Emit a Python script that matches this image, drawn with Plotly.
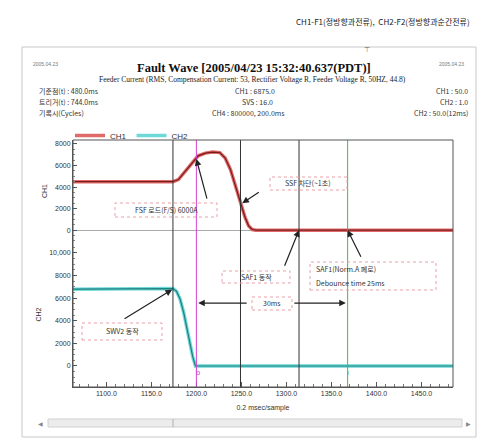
import plotly.graph_objects as go

# ---- recorded waveforms (sample index vs. value) ----
x_ch1 = [1063, 1174, 1180, 1188, 1196, 1202, 1210, 1218, 1226, 1232, 1238, 1244, 1249, 1254, 1258, 1262, 1266, 1485]
ch1 = [4500, 4500, 4700, 5500, 6400, 6900, 7150, 7250, 7200, 6700, 5600, 4000, 2500, 1200, 400, 60, 0, 0]

x_ch2 = [1063, 1170, 1174, 1178, 1182, 1186, 1190, 1193, 1196, 1199, 1485]
ch2 = [6800, 6800, 6850, 6600, 5900, 4700, 3100, 1900, 800, 0, 0]

# cursor positions and their colours
cursor_x = [1174, 1200, 1249, 1314, 1368]
cursor_color = ["#333333", "#d43fd4", "#333333", "#333333", "#3cc03c"]

x_ticks = [1100, 1150, 1200, 1250, 1300, 1350, 1400, 1450]
x_tick_text = ["%.1f" % v for v in x_ticks]
y_tick_step = 2000

W, H = 493, 440
L, R, T, B = 73, 453, 140, 387


def px(x):
    return (x - L) / (R - L)


def py(y):
    return (B - y) / (B - T)


fig = go.Figure()

# CH1: wide light band with a dark core
fig.add_trace(go.Scatter(x=x_ch1, y=ch1, mode="lines", name="CH1", yaxis="y",
                         line=dict(color="#e06a6a", width=3.5), showlegend=True))
fig.add_trace(go.Scatter(x=x_ch1, y=ch1, mode="lines", yaxis="y",
                         line=dict(color="#7a1c1c", width=1.2), showlegend=False, hoverinfo="skip"))
# CH2
fig.add_trace(go.Scatter(x=x_ch2, y=ch2, mode="lines", name="CH2", yaxis="y2",
                         line=dict(color="#6fd8d8", width=3.5), showlegend=True))
fig.add_trace(go.Scatter(x=x_ch2, y=ch2, mode="lines", yaxis="y2",
                         line=dict(color="#1f7f7f", width=1.2), showlegend=False, hoverinfo="skip"))

shapes = []
for cx, cc in zip(cursor_x, cursor_color):
    shapes.append(dict(type="line", xref="x", yref="paper", x0=cx, x1=cx, y0=0, y1=1,
                       line=dict(color=cc, width=1)))
# plot frame
shapes.append(dict(type="rect", xref="paper", yref="paper", x0=0, x1=1, y0=0, y1=1,
                   line=dict(color="#555555", width=1)))
# window frame and scroll bar
shapes.append(dict(type="rect", xref="paper", yref="paper", x0=px(22), x1=px(476), y0=py(437), y1=py(47),
                   line=dict(color="#c8c8c8", width=1)))
shapes.append(dict(type="rect", xref="paper", yref="paper", x0=px(48), x1=px(462), y0=py(427), y1=py(419),
                   line=dict(color="#d0d0d0", width=1), fillcolor="#ececec"))
shapes.append(dict(type="line", xref="paper", yref="paper", x0=px(173), x1=px(173), y0=py(427), y1=py(419),
                   line=dict(color="#b0b0b0", width=1)))

# annotation boxes (dotted pink outlines)
boxes = [
    (115, 217, 203, 217),
    (270, 347, 177, 190),
    (222, 290, 271, 283),
    (310, 436, 262, 290),
    (252, 292, 297, 310),
    (82, 162, 323, 340),
]
for x0, x1, y0, y1 in boxes:
    shapes.append(dict(type="rect", xref="paper", yref="paper", x0=px(x0), x1=px(x1), y0=py(y1), y1=py(y0),
                       line=dict(color="#e9a0a8", width=1, dash="dot")))

cjk = "Noto Sans CJK KR"
small = dict(family=cjk, size=7, color="#333333")
ann = []


def label(text, x, y, xanchor="center", font=small):
    ann.append(dict(text=text, xref="paper", yref="paper", x=px(x), y=py(y), xanchor=xanchor,
                    yanchor="middle", showarrow=False, font=font))


# header and title block
label("CH1-F1(정방향과전류),  CH2-F2(정방향과순간전류)", 472, 22, "right",
      dict(family=cjk, size=8, color="#222222"))
label("<b>Fault Wave [2005/04/23 15:32:40.637(PDT)]</b>", 254, 68, "center",
      dict(family="Liberation Serif", size=12.5, color="#111111"))
label("2005.04.23", 31, 64, "left", dict(family="Liberation Sans", size=5, color="#777777"))
label("2005.04.23", 466, 64, "right", dict(family="Liberation Sans", size=5, color="#777777"))
label("Feeder Current (RMS, Compensation Current: 53, Rectifier Voltage R, Feeder Voltage R, 50HZ, 44.8)",
      252, 79, "center", dict(family="Liberation Serif", size=7.5, color="#222222"))
label("기준점(t) : 480.0ms", 37, 91, "left")
label("트리거(t) : 744.0ms", 37, 102, "left")
label("기록시(Cycles)", 37, 113, "left")
label("CH1 : 6875.0", 233, 91, "left")
label("SVS : 16.0", 240, 102, "left")
label("CH4 : 800000, 200.0ms", 210, 113, "left")
label("CH1 : 50.0", 470, 91, "right")
label("CH2 : 1.0", 470, 102, "right")
label("CH2 : 50.0(12ms)", 470, 113, "right")
label("⊤", 367, 50, "center", dict(family="DejaVu Sans", size=7, color="#666666"))
label("◀", 40, 423, "center", dict(family="DejaVu Sans", size=6, color="#888888"))
label("▶", 468, 423, "center", dict(family="DejaVu Sans", size=6, color="#888888"))

# box captions
label("FSF 로드(F/S) 6000A", 166, 210)
label("SSF 차단(~1초)", 308, 183)
label("SAF1 동작", 256, 277)
label("SAF1(Norm.A 폐로)", 314, 269, "left")
label("Debounce time 25ms", 314, 283, "left")
label("30ms", 272, 303)
label("SWV2 동작", 122, 331)

# arrows pointing at the waveforms and cursors
arrow = dict(showarrow=True, arrowhead=2, arrowsize=1.1, arrowwidth=1.2, arrowcolor="#222222", text="")
ann.append(dict(arrow, x=1200, y=6600, xref="x", yref="y", ax=11, ay=41))
ann.append(dict(arrow, x=1251, y=2500, xref="x", yref="y", ax=18, ay=-12))
ann.append(dict(arrow, x=1314, y=0, xref="x", yref="y", ax=-15, ay=37))
ann.append(dict(arrow, x=1368, y=0, xref="x", yref="y", ax=14, ay=28))
ann.append(dict(arrow, x=1202, y=5570, xref="x", yref="y2", ax=50, ay=0))
ann.append(dict(arrow, x=1366, y=5570, xref="x", yref="y2", ax=-53, ay=0))
ann.append(dict(arrow, x=1173, y=6750, xref="x", yref="y2", ax=-49, ay=30))

# cursor markers near the bottom
label("o", 198, 373, "center", dict(family="DejaVu Sans", size=7, color="#d43fd4"))
label("ı", 348, 373, "center", dict(family="DejaVu Sans", size=7, color="#3cc03c"))

tickfont = dict(family="Liberation Sans", size=7, color="#333333")
yaxis_common = dict(tickmode="linear", tick0=0, dtick=y_tick_step, exponentformat="none",
                    separatethousands=False, ticks="inside", ticklen=4, tickcolor="#555555",
                    showgrid=False, showline=True, linecolor="#555555", tickfont=tickfont,
                    minor=dict(ticks="inside", dtick=500, ticklen=2, tickcolor="#888888"))
fig.update_layout(
    width=W, height=H, autosize=False,
    margin=dict(l=L, r=W - R, t=T, b=H - B),
    paper_bgcolor="white", plot_bgcolor="white",
    showlegend=True,
    legend=dict(orientation="h", x=px(70), y=py(121), xanchor="left", yanchor="top",
                font=dict(family="Liberation Sans", size=8, color="#333333"),
                bgcolor="rgba(0,0,0,0)", itemwidth=30, tracegroupgap=0),
    xaxis=dict(range=[1063, 1485], anchor="y2", tickvals=x_ticks, ticktext=x_tick_text,
               ticks="inside", ticklen=5, tickcolor="#555555", showgrid=False, zeroline=False,
               showline=True, linecolor="#555555", tickfont=tickfont,
               minor=dict(ticks="inside", dtick=10, ticklen=3, tickcolor="#777777"),
               title=dict(text="0.2 msec/sample", font=dict(family="Liberation Sans", size=7, color="#333333"),
                          standoff=8)),
    yaxis=dict(yaxis_common, domain=[0.587, 1], range=[-1100, 8370],
               zeroline=True, zerolinecolor="#aaaaaa", zerolinewidth=1,
               title=dict(text="CH1", font=dict(family="Liberation Sans", size=7, color="#333333"), standoff=6)),
    yaxis2=dict(yaxis_common, domain=[0, 0.587], range=[-1860, 10970], zeroline=False,
                title=dict(text="CH2", font=dict(family="Liberation Sans", size=7, color="#333333"), standoff=6)),
    shapes=shapes,
    annotations=ann,
)

fig.write_html("out.html")
